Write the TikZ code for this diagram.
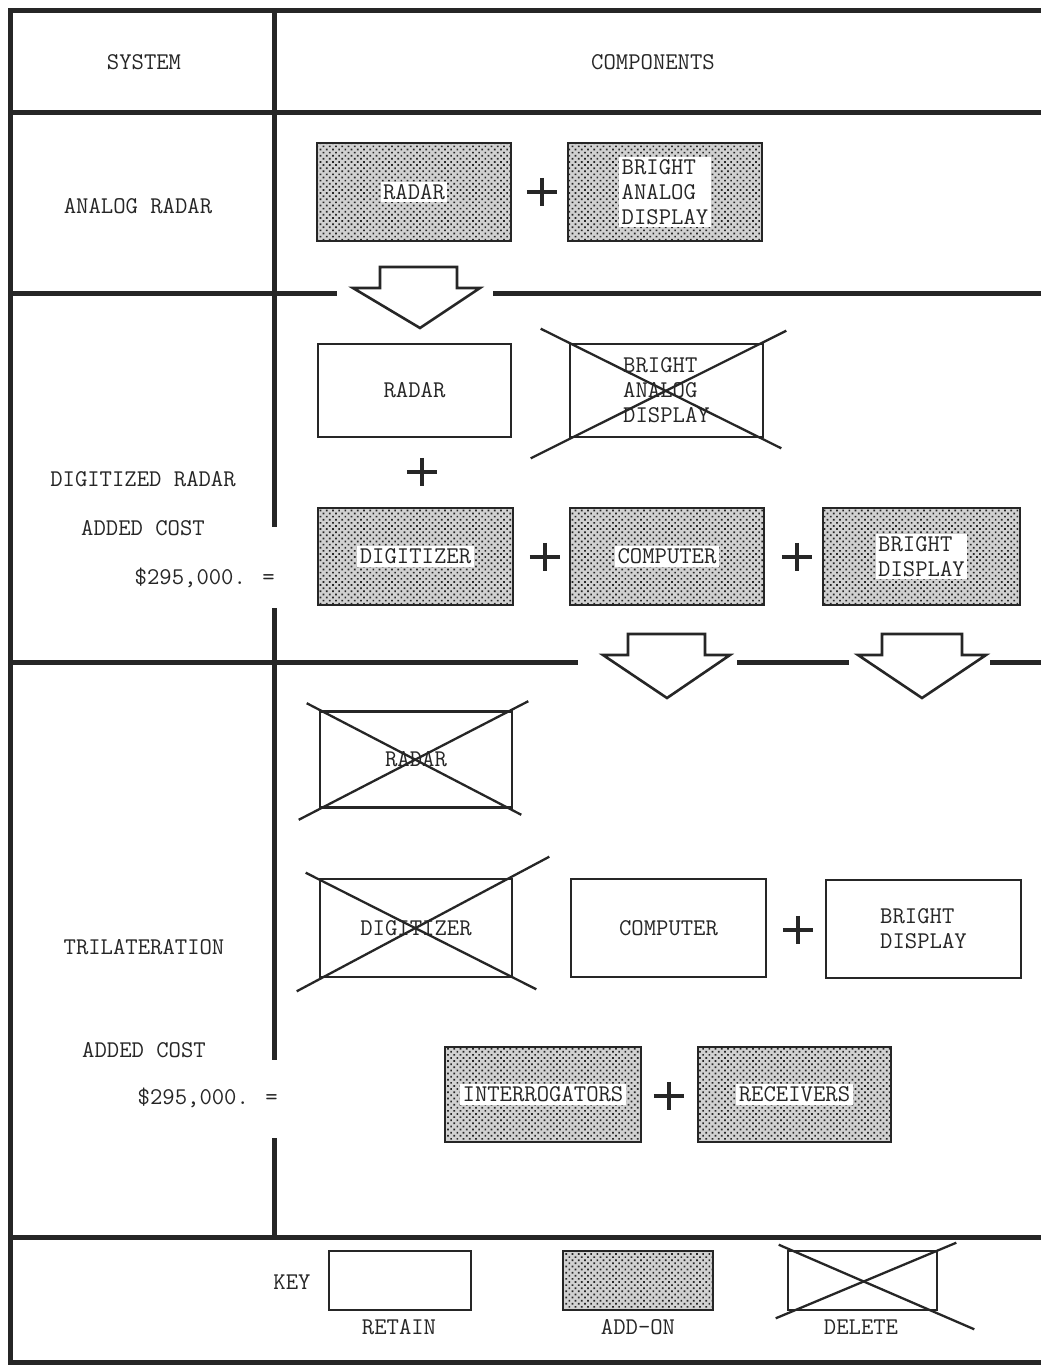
\documentclass[tikz,border=0pt]{standalone}
\usepackage{fontspec}
\usetikzlibrary{calc,patterns.meta}
\begin{document}
\begin{tikzpicture}[x=1pt,y=-1pt,
  every node/.style={font=\fontsize{24}{25}\selectfont\ttfamily, text=black!85},
  frame/.style={line width=5pt, draw=black!85},
  box/.style={draw=black!85, line width=2.6pt, inner sep=0pt, align=left},
  addon/.style={box, preaction={fill=black!18}, pattern={Dots[distance=4.4pt, radius=1.2pt, angle=45]}, pattern color=black!85},
  addtext/.style={fill=white, inner sep=2.5pt, align=left},
  crossline/.style={line width=2.3pt, draw=black!85},
  plusmark/.style={minimum width=30pt, minimum height=28pt, inner sep=0pt},
  plusline/.style={line width=3.5pt, draw=black!85},
  arrowshape/.style={line width=2.6pt, draw=black!85, fill=white, line join=miter},
  lbl/.style={inner sep=0pt}
]
\useasboundingbox[fill=white] (0,0) rectangle (1041,1366);

% ---- frame lines ----
\draw[frame] (8,10) -- (1041,10);
\draw[frame] (10,8) -- (10,1364);
\draw[frame] (8,1362) -- (1041,1362);
\draw[frame] (8,112) -- (1041,112);
\draw[frame] (8,293) -- (337,293);
\draw[frame] (493,293) -- (1041,293);
\draw[frame] (8,662) -- (578,662);
\draw[frame] (737,662) -- (849,662);
\draw[frame] (990,662) -- (1041,662);
\draw[frame] (8,1237) -- (1041,1237);
\draw[frame] (274,8) -- (274,527);
\draw[frame] (274,608) -- (274,1060);
\draw[frame] (274,1138) -- (274,1239);

% ---- headings and left column ----
\node[lbl] (hsys) at (144,62) {SYSTEM};
\node[lbl] (hcomp) at (653,62) {COMPONENTS};
\node[lbl] (sana) at (138,206) {ANALOG RADAR};
\node[lbl] (sdig) at (143,479) {DIGITIZED RADAR};
\node[lbl] (sdigc) at (143,528) {ADDED COST};
\node[lbl, anchor=east] (sdigv) at (275,578) {\$295,000. =};
\node[lbl] (stri) at (144,947) {TRILATERATION};
\node[lbl] (stric) at (144,1050) {ADDED COST};
\node[lbl, anchor=east] (striv) at (278,1098) {\$295,000. =};

% ---- analog radar ----
\node[addon, minimum width=194pt, minimum height=98pt] (a1) at (414,192) {};
\node[addtext] (a1t) at (a1) {RADAR};
\node[plusmark] (p1) at (542,192) {};
\node[addon, minimum width=194pt, minimum height=98pt] (a2) at (665,192) {};
\node[addtext] (a2t) at (a2) {BRIGHT\\ANALOG\\DISPLAY};

% arrow 1
\draw[arrowshape] (380,267) -- (457,267) -- (457,288) -- (480,288) -- (420,328) -- (353,288) -- (380,288) -- cycle;

% ---- digitized radar ----
\node[box, minimum width=193pt, minimum height=93pt] (b1) at (414.5,390.5) {RADAR};
\node[box, minimum width=193pt, minimum height=93pt] (b2) at (666.5,390.5) {BRIGHT\\ANALOG\\DISPLAY};
\draw[crossline] ($(b2.north west)+(-28,-14)$) -- ($(b2.south east)+(17,10)$);
\draw[crossline] ($(b2.south west)+(-38,20)$) -- ($(b2.north east)+(22,-12)$);
\node[plusmark] (p2) at (422,472) {};

\node[addon, minimum width=195pt, minimum height=97pt] (c1) at (415.5,556.5) {};
\node[addtext] (c1t) at (c1) {DIGITIZER};
\node[plusmark] (p3) at (545,557) {};
\node[addon, minimum width=194pt, minimum height=97pt] (c2) at (667,556.5) {};
\node[addtext] (c2t) at (c2) {COMPUTER};
\node[plusmark] (p4) at (797,557) {};
\node[addon, minimum width=197pt, minimum height=97pt] (c3) at (921.5,556.5) {};
\node[addtext] (c3t) at (c3) {BRIGHT\\DISPLAY};

% arrows 2 and 3
\draw[arrowshape] (628,634) -- (705,634) -- (705,655) -- (730,655) -- (667,698) -- (603,655) -- (628,655) -- cycle;
\draw[arrowshape] (882,634) -- (962,634) -- (962,655) -- (986,655) -- (922,698) -- (858,655) -- (882,655) -- cycle;

% ---- trilateration ----
\node[box, minimum width=192pt, minimum height=96pt] (d1) at (416,759.5) {RADAR};
\draw[crossline] ($(d1.north west)+(-12,-7)$) -- ($(d1.south east)+(8,6)$);
\draw[crossline] ($(d1.south west)+(-20,11)$) -- ($(d1.north east)+(15,-9)$);

\node[box, minimum width=192pt, minimum height=98pt] (e1) at (416,928) {DIGITIZER};
\draw[crossline] ($(e1.north west)+(-13,-5)$) -- ($(e1.south east)+(23,11)$);
\draw[crossline] ($(e1.south west)+(-22,13)$) -- ($(e1.north east)+(36,-21)$);
\node[box, minimum width=195pt, minimum height=98pt] (e2) at (668.5,928) {COMPUTER};
\node[plusmark] (p5) at (798,930) {};
\node[box, minimum width=195pt, minimum height=98pt] (e3) at (923.5,929) {BRIGHT\\DISPLAY};

\node[addon, minimum width=196pt, minimum height=95pt] (f1) at (543,1094.5) {};
\node[addtext] (f1t) at (f1) {INTERROGATORS};
\node[plusmark] (p6) at (669,1096) {};
\node[addon, minimum width=193pt, minimum height=95pt] (f2) at (794.5,1094.5) {};
\node[addtext] (f2t) at (f2) {RECEIVERS};

% ---- plus signs ----
\foreach \p in {p1,p2,p3,p4,p5,p6}{
  \draw[plusline] (\p.north) -- (\p.south);
  \draw[plusline] (\p.west) -- (\p.east);
}

% ---- key ----
\node[lbl] (key) at (292,1282) {KEY};
\node[box, minimum width=142pt, minimum height=59pt] (k1) at (400,1280.5) {};
\node[addon, minimum width=150pt, minimum height=59pt] (k2) at (638,1280.5) {};
\node[box, minimum width=149pt, minimum height=59pt] (k3) at (862.5,1280.5) {};
\draw[crossline] ($(k3.north west)+(-8,-5)$) -- ($(k3.south east)+(36,18)$);
\draw[crossline] ($(k3.south west)+(-11,7)$) -- ($(k3.north east)+(18,-7)$);
\node[lbl] (k1l) at (399,1327) {RETAIN};
\node[lbl] (k2l) at (638,1327) {ADD-ON};
\node[lbl] (k3l) at (861,1327) {DELETE};
\end{tikzpicture}
\end{document}
